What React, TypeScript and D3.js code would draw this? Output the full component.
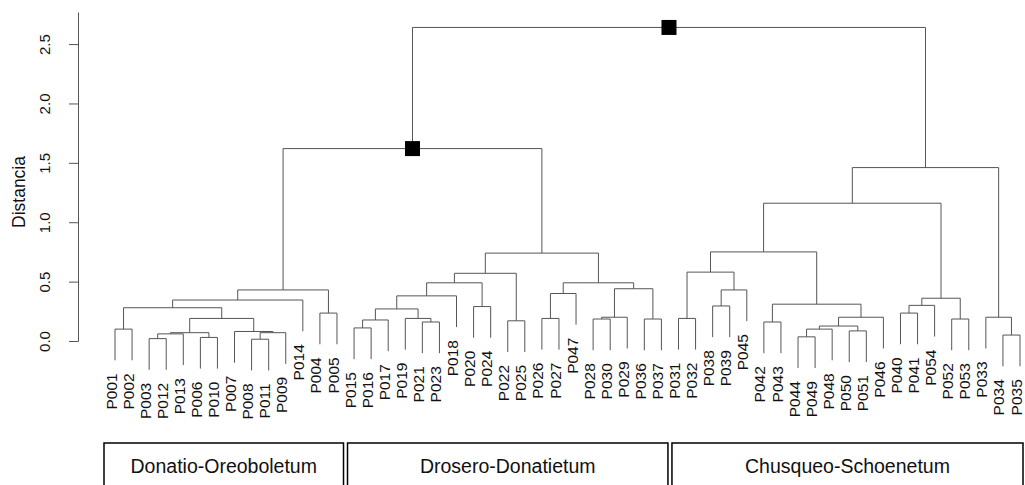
import React, { useEffect, useRef } from 'react';
import * as d3 from 'd3';

// leaves in plotted order
const leafLabels = [
  'P001', 'P002', 'P003', 'P012', 'P013', 'P006', 'P010', 'P007', 'P008', 'P011', 'P009', 'P014', 'P004', 'P005',
  'P015', 'P016', 'P017', 'P019', 'P021', 'P023', 'P018', 'P020', 'P024', 'P022', 'P025', 'P026', 'P027', 'P047',
  'P028', 'P030', 'P029', 'P036', 'P037',
  'P031', 'P032', 'P038', 'P039', 'P045', 'P042', 'P043', 'P044', 'P049', 'P048', 'P050', 'P051', 'P046',
  'P040', 'P041', 'P054', 'P052', 'P053', 'P033', 'P034', 'P035',
];

// hclust-like merge table: strings are leaves, numbers are earlier merges
const merges: [string | number, string | number][] = [
  ['P001', 'P002'], ['P003', 'P012'], [1, 'P013'], ['P006', 'P010'], [2, 3],
  ['P008', 'P011'], [5, 'P009'], ['P007', 6], [4, 7], [0, 8],
  [9, 'P014'], ['P004', 'P005'], [10, 11],
  ['P015', 'P016'], [13, 'P017'], ['P021', 'P023'], ['P019', 15], [14, 16],
  [17, 'P018'], ['P020', 'P024'], [18, 19], ['P022', 'P025'], [20, 21],
  ['P026', 'P027'], [23, 'P047'], ['P028', 'P030'], [25, 'P029'], ['P036', 'P037'],
  [26, 27], [24, 28], [22, 29], [12, 30],
  ['P031', 'P032'], ['P038', 'P039'], [33, 'P045'], [32, 34], ['P042', 'P043'],
  ['P044', 'P049'], [37, 'P048'], ['P050', 'P051'], [38, 39], [40, 'P046'],
  [36, 41], [35, 42], ['P040', 'P041'], [44, 'P054'], ['P052', 'P053'],
  [45, 46], [43, 47], ['P034', 'P035'], ['P033', 49], [48, 50], [31, 51],
];

const mergeHeights = [
  0.10, 0.02, 0.06, 0.03, 0.07,
  0.015, 0.07, 0.08, 0.19, 0.28,
  0.345, 0.235, 0.43,
  0.11, 0.177, 0.16, 0.19, 0.27,
  0.38, 0.29, 0.49, 0.17, 0.57,
  0.19, 0.40, 0.185, 0.20, 0.185,
  0.44, 0.49, 0.74, 1.62,
  0.19, 0.295, 0.43, 0.58, 0.16,
  0.035, 0.10, 0.085, 0.126, 0.20,
  0.31, 0.75, 0.235, 0.30, 0.185,
  0.36, 1.16, 0.05, 0.20, 1.46, 2.64,
];

const markedMerges = [31, 52];
const yTicks = [0, 0.5, 1.0, 1.5, 2.0, 2.5];
const groupNames = ['Donatio-Oreoboletum', 'Drosero-Donatietum', 'Chusqueo-Schoenetum'];
const groupFirst = ['P001', 'P015', 'P031'];
const groupLast = ['P005', 'P037', 'P035'];

const W = 1025;
const H = 485;
const font = 'Liberation Sans, Arial, sans-serif';
const lineColor = '#555';
const textColor = '#111';

const buildNode = (i: number): any => ({
  name: 'm' + i,
  id: i,
  height: mergeHeights[i],
  children: merges[i].map(r => (typeof r === 'string' ? { name: r, height: 0 } : buildNode(r))),
});

const App = () => {
  const axisRef = useRef<SVGGElement>(null);

  const y = d3.scaleLinear().domain([0, 2.77]).range([341, 12]);
  const hang = 0.1 * ((d3.max(mergeHeights) as number) - (d3.min(mergeHeights) as number));

  const root = d3.hierarchy(buildNode(merges.length - 1));
  d3.cluster().size([1, 1]).separation(() => 1)(root as any);
  const leaves = root.leaves() as any[];

  // first leaf -> last leaf across the plot
  const x = d3.scaleLinear()
    .domain(d3.extent(leaves, (l: any) => l.x) as [number, number])
    .range([115, 1020]);

  const leafX: Record<string, number> = {};
  leaves.forEach((l: any) => { leafX[l.data.name] = x(l.x); });

  useEffect(() => {
    const g = d3.select(axisRef.current);
    g.selectAll('*').remove();
    g.call(d3.axisLeft(y).tickValues(yTicks).tickSize(9).tickSizeOuter(0).tickFormat(d3.format('.1f')) as any);
    g.select('.domain').attr('stroke', lineColor);
    g.selectAll('.tick line').attr('stroke', lineColor);
    g.selectAll('.tick text')
      .attr('transform', 'rotate(-90)')
      .attr('x', 0)
      .attr('y', -28)
      .attr('dy', 0)
      .attr('text-anchor', 'middle')
      .attr('font-size', 15)
      .attr('font-family', font)
      .attr('fill', textColor);
  }, []);

  const internal = root.descendants().filter((d: any) => d.children);

  // box edges from group boundaries
  const boxes = groupNames.map((name, i) => {
    const left = i === 0
      ? leafX[groupFirst[i]] - 11
      : (leafX[groupLast[i - 1]] + leafX[groupFirst[i]]) / 2 + 2;
    const right = i === groupNames.length - 1
      ? leafX[groupLast[i]] + 3
      : (leafX[groupLast[i]] + leafX[groupFirst[i + 1]]) / 2 - 2;
    return { name, left, right };
  });

  return (
    <svg width={W} height={H} style={{ position: 'absolute', left: 0, top: 0, background: '#fff' }}>
      <g ref={axisRef} transform="translate(78,0)" />
      <text
        transform={`translate(19,192) rotate(-90)`}
        textAnchor="middle"
        dominantBaseline="central"
        fontSize={17.5}
        fontFamily={font}
        fill={textColor}
      >Distancia</text>

      {internal.map((n: any) => {
        const [a, b] = n.children;
        const yn = y(n.data.height);
        const bottom = (c: any) => y(c.children ? c.data.height : n.data.height - hang);
        return (
          <path
            key={n.data.name}
            d={`M${x(a.x)},${bottom(a)}V${yn}H${x(b.x)}V${bottom(b)}`}
            fill="none"
            stroke={lineColor}
            strokeWidth={1}
          />
        );
      })}

      {leaves.map((l: any) => {
        const yb = y(l.parent.data.height - hang) + 13;
        return (
          <text
            key={l.data.name}
            transform={`translate(${x(l.x)},${yb}) rotate(-90)`}
            textAnchor="end"
            dy="0.1em"
            fontSize={15.5}
            fontFamily={font}
            fill={textColor}
          >{l.data.name}</text>
        );
      })}

      {internal.filter((n: any) => markedMerges.includes(n.data.id)).map((n: any) => (
        <rect
          key={'sq' + n.data.id}
          x={x(n.x) - 7.5}
          y={y(n.data.height) - 7.5}
          width={15}
          height={15}
          fill="#000"
        />
      ))}

      {boxes.map(b => (
        <g key={b.name}>
          <rect x={b.left} y={443} width={b.right - b.left} height={60} fill="none" stroke="#000" strokeWidth={1.5} />
          <text
            x={(b.left + b.right) / 2}
            y={473}
            textAnchor="middle"
            fontSize={19.5}
            fontFamily={font}
            fill={textColor}
          >{b.name}</text>
        </g>
      ))}
    </svg>
  );
};

export default App;
